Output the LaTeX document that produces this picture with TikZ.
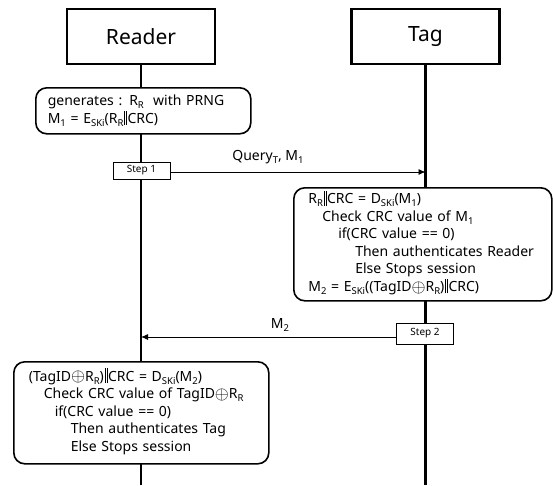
\documentclass[tikz,border=0pt]{standalone}
\usepackage{fontspec}
\setmainfont{Noto Sans}
\usetikzlibrary{arrows.meta}
% small lowered index text, as in R_R, E_SKi
\newcommand\lo[1]{\raisebox{-0.4ex}{\fontsize{9.5}{9.5}\selectfont #1}}
% XOR sign and the concatenation bars
\newcommand\xo{\raisebox{-0.1ex}{\scalebox{1.25}{$\oplus$}}}
\newcommand\cat{\kern0.8pt\smash{\rule[-0.25ex]{0.55pt}{1.95ex}\kern1.4pt\rule[-0.25ex]{0.55pt}{1.95ex}}\kern0.8pt}

\begin{document}
\begin{tikzpicture}[x=1pt,y=-1pt,
  actor/.style={draw, line width=2.3pt, minimum width=148pt, minimum height=55pt,
    inner sep=0pt, font=\fontsize{21}{24}\selectfont},
  life/.style={line width=2.3pt},
  proc/.style={draw, fill=white, line width=1.6pt, rounded corners=11pt, align=left,
    anchor=north west, inner ysep=0pt, font=\fontsize{14}{17.5}\selectfont},
  stepbox/.style={draw, fill=white, line width=0.9pt, minimum width=57pt,
    inner sep=0pt, font=\fontsize{10}{11}\selectfont},
  msg/.style={line width=0.9pt, -{Latex[length=7pt,width=6pt]}},
  lbl/.style={font=\fontsize{14}{15}\selectfont}
]
\useasboundingbox (0,0) rectangle (553,485);

% participants and their lifelines
\node[actor] (reader) at (141,36.5) {Reader};
\node[actor] (tag) at (425.5,36.5) {Tag};
\coordinate (rend) at (141,485);
\coordinate (tend) at (425.5,485);
\draw[life] (reader.south) -- (rend);
\draw[life] (tag.south) -- (tend);

% reader prepares M1
\node[proc, minimum width=215pt, minimum height=46pt, text width=191pt, inner xsep=12pt]
  (gen) at (35,87) {generates : R\lo{R}\ \ with PRNG\\
  M\lo{1} = E\lo{SKi}(R\lo{R}\cat CRC)};

% step 1: reader to tag
\node[stepbox, minimum height=17pt] (s1) at (141.5,170.5) {Step 1};
\draw[msg] ([yshift=-1.5pt]s1.east) -- ([yshift=-1.5pt]s1.east -| tag.south);
\node[lbl] (q) at (268,157) {Query\lo{T}, M\lo{1}};

% tag checks M1 and prepares M2
\node[proc, minimum width=258pt, minimum height=113pt, text width=229pt, inner xsep=14.5pt]
  (chk) at (293,187) {R\lo{R}\cat CRC = D\lo{SKi}(M\lo{1})\\
  \hspace*{14pt}Check CRC value of M\lo{1}\\
  \hspace*{30pt}if(CRC value == 0)\\
  \hspace*{47pt}Then authenticates Reader\\
  \hspace*{47pt}Else Stops session\\
  M\lo{2} = E\lo{SKi}((TagID\xo R\lo{R})\cat CRC)};

% step 2: tag to reader
\node[stepbox, minimum height=21pt] (s2) at (425,333.5) {Step 2};
\draw[msg] ([yshift=-3.5pt]s2.west) -- ([yshift=-3.5pt]s2.west -| reader.south);
\node[lbl] (m2) at (280,325) {M\lo{2}};

% reader checks M2
\node[proc, minimum width=255pt, minimum height=102pt, text width=225pt, inner xsep=15pt]
  (ver) at (13,361) {(TagID\xo R\lo{R})\cat CRC = D\lo{SKi}(M\lo{2})\\
  \hspace*{15pt}Check CRC value of TagID\xo R\lo{R}\\
  \hspace*{26pt}if(CRC value == 0)\\
  \hspace*{42pt}Then authenticates Tag\\
  \hspace*{42pt}Else Stops session};
\end{tikzpicture}
\end{document}
